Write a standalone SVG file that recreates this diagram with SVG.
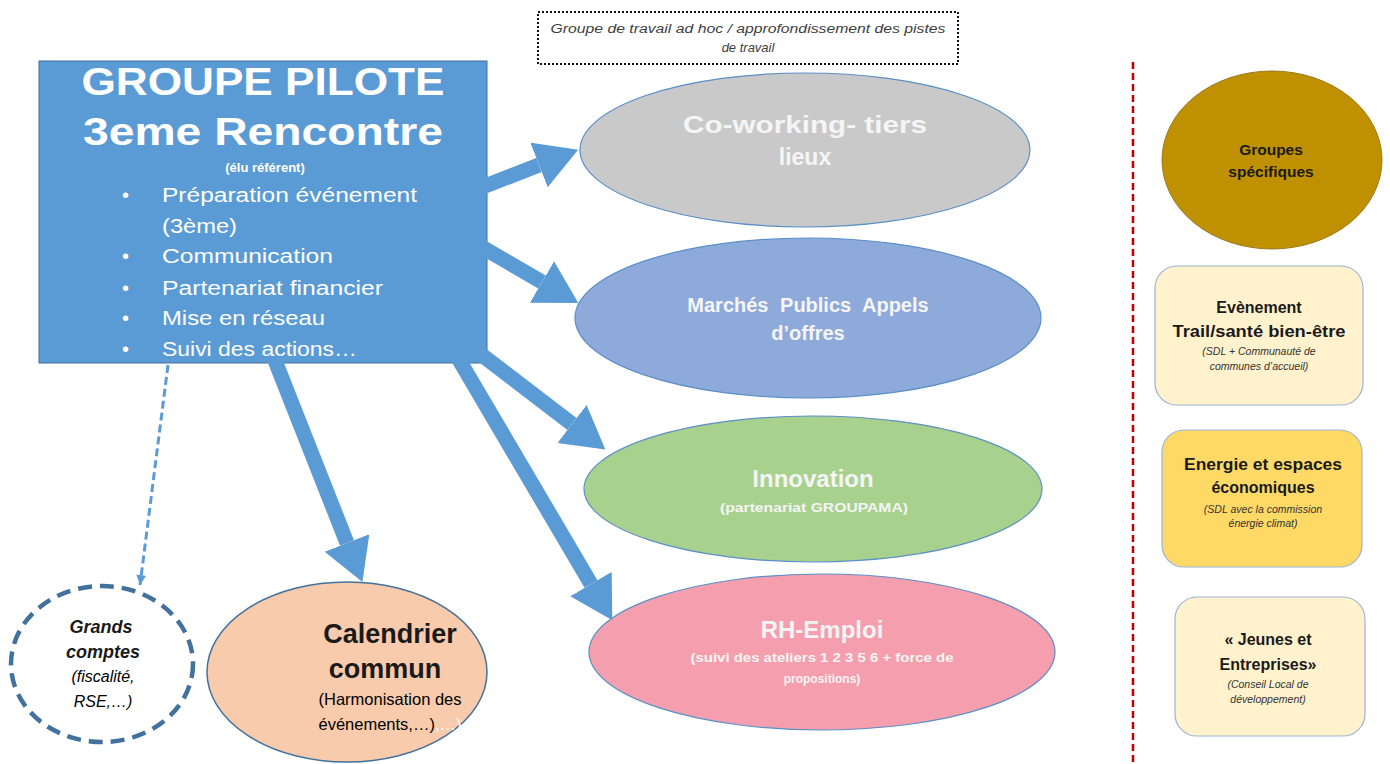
<svg xmlns="http://www.w3.org/2000/svg" width="1390" height="764" viewBox="0 0 1390 764">
<style>
.sans{font-family:"Liberation Sans",Arial,sans-serif}
.hd{font-family:"Liberation Sans",Arial,sans-serif;font-weight:bold;fill:#ffffff;text-anchor:middle}
.bl{font-family:"Liberation Sans",Arial,sans-serif;fill:#ffffff;font-size:20px}
.ell{stroke:#5b8fc7;stroke-width:1.2}
.wt{font-family:"Liberation Sans",Arial,sans-serif;font-weight:bold;fill:#f5f5f5;text-anchor:middle}
.bk{font-family:"Liberation Sans",Arial,sans-serif;font-weight:bold;fill:#1a1a1a;text-anchor:middle}
.sm{font-family:"Liberation Sans",Arial,sans-serif;font-style:italic;fill:#333;text-anchor:middle;font-size:10.5px}
.rbox{stroke:#9db3d6;stroke-width:1.2}
.arr{stroke:#5b9bd5;stroke-width:15;fill:none}
</style>
<defs>
<marker id="head" markerUnits="userSpaceOnUse" markerWidth="44" markerHeight="50" refX="0" refY="24" orient="auto">
<path d="M0,0 L42,24 L0,48 z" fill="#5b9bd5"/>
</marker>
<marker id="small" markerUnits="userSpaceOnUse" markerWidth="12" markerHeight="12" refX="10" refY="5" orient="auto">
<path d="M0,0 L10,5 L0,10 z" fill="#5b9bd5"/>
</marker>
</defs>

<g id="separator">
<line x1="1133" y1="62" x2="1133" y2="762" stroke="#c00000" stroke-width="2.5" stroke-dasharray="7,4"/>
</g>

<g id="groupe-travail">
<rect x="538" y="12" width="420" height="52" fill="#ffffff" stroke="#111" stroke-width="2" stroke-dasharray="2,2"/>
<text class="sans" x="748" y="33" font-size="12.5" font-style="italic" fill="#404040" text-anchor="middle" textLength="395" lengthAdjust="spacingAndGlyphs">Groupe de travail ad hoc / approfondissement des pistes</text>
<text class="sans" x="748" y="52" font-size="13" font-style="italic" fill="#404040" text-anchor="middle">de travail</text>
</g>

<g id="groupe-pilote">
<rect x="39" y="61" width="448" height="302" fill="#5b9bd5" stroke="#41719c" stroke-width="1"/>
<text class="hd" x="263" y="95" font-size="38" textLength="363" lengthAdjust="spacingAndGlyphs">GROUPE PILOTE</text>
<text class="hd" x="263" y="145" font-size="38" textLength="360" lengthAdjust="spacingAndGlyphs">3eme Rencontre</text>
<text class="hd" x="265" y="172" font-size="13">(élu référent)</text>
<g class="bl">
<text x="122" y="202">•</text>
<text x="162" y="202" textLength="255" lengthAdjust="spacingAndGlyphs">Préparation événement</text>
<text x="162" y="233" textLength="75" lengthAdjust="spacingAndGlyphs">(3ème)</text>
<text x="122" y="263">•</text>
<text x="162" y="263" textLength="171" lengthAdjust="spacingAndGlyphs">Communication</text>
<text x="122" y="295">•</text>
<text x="162" y="295" textLength="221" lengthAdjust="spacingAndGlyphs">Partenariat financier</text>
<text x="122" y="325">•</text>
<text x="162" y="325" textLength="163" lengthAdjust="spacingAndGlyphs">Mise en réseau</text>
<text x="122" y="356">•</text>
<text x="162" y="356" textLength="195" lengthAdjust="spacingAndGlyphs">Suivi des actions…</text>
</g>
</g>

<g id="connectors">
<line class="arr" x1="480" y1="188" x2="539" y2="165" marker-end="url(#head)"/>
<line class="arr" x1="480" y1="246" x2="542" y2="282" marker-end="url(#head)"/>
<line class="arr" x1="474" y1="349" x2="572" y2="424" marker-end="url(#head)"/>
<line class="arr" x1="458" y1="358" x2="591" y2="584" marker-end="url(#head)"/>
<line class="arr" x1="274" y1="358" x2="347" y2="543" marker-end="url(#head)"/>
<line x1="168" y1="365" x2="140" y2="585" stroke="#5b9bd5" stroke-width="3" stroke-dasharray="8,4" marker-end="url(#small)"/>
</g>

<g id="coworking">
<ellipse class="ell" cx="805" cy="150" rx="225" ry="77" fill="#c9c9c9"/>
<text class="wt" x="805" y="133" font-size="23" textLength="244" lengthAdjust="spacingAndGlyphs">Co-working- tiers</text>
<text class="wt" x="805" y="165" font-size="23">lieux</text>
</g>

<g id="marches">
<ellipse class="ell" cx="808" cy="318" rx="233" ry="80" fill="#8eaadb"/>
<text class="wt" x="808" y="312" font-size="20" word-spacing="6">Marchés Publics Appels</text>
<text class="wt" x="808" y="340" font-size="20">d’offres</text>
</g>

<g id="innovation">
<ellipse class="ell" cx="813" cy="489" rx="229" ry="73" fill="#a9d18e"/>
<text class="wt" x="813" y="487" font-size="24">Innovation</text>
<text class="wt" x="814" y="512" font-size="12" textLength="188" lengthAdjust="spacingAndGlyphs">(partenariat GROUPAMA)</text>
</g>

<g id="rh-emploi">
<ellipse class="ell" cx="822" cy="652" rx="233" ry="78" fill="#f59fae"/>
<text class="wt" x="822" y="638" font-size="24">RH-Emploi</text>
<text class="wt" x="822" y="662" font-size="12" textLength="263" lengthAdjust="spacingAndGlyphs">(suivi des ateliers 1 2 3 5 6 + force de</text>
<text class="wt" x="822" y="683" font-size="12">propositions)</text>
</g>

<g id="calendrier">
<ellipse cx="347" cy="672" rx="140" ry="90" fill="#f8cbad" stroke="#41719c" stroke-width="1.5"/>
<text class="bk" x="390" y="643" font-size="27" fill="#000">Calendrier</text>
<text class="bk" x="385" y="678" font-size="27" fill="#000">commun</text>
<text class="sans" x="390" y="705" font-size="16.5" fill="#000" text-anchor="middle">(Harmonisation des</text>
<text class="sans" x="390" y="730" font-size="16.5" fill="#000" text-anchor="middle">événements,…)<tspan fill="#ffffff">,…)</tspan></text>
</g>

<g id="grands-comptes">
<ellipse cx="102" cy="664" rx="91" ry="78" fill="#ffffff" stroke="#41719c" stroke-width="4.5" stroke-dasharray="14,8"/>
<text class="bk" x="101" y="633" font-size="18" font-style="italic" fill="#000">Grands</text>
<text class="bk" x="103" y="658" font-size="18" font-style="italic" fill="#000">comptes</text>
<text class="sans" x="103" y="682" font-size="16" font-style="italic" fill="#000" text-anchor="middle">(fiscalité,</text>
<text class="sans" x="103" y="707" font-size="16" font-style="italic" fill="#000" text-anchor="middle">RSE,…)</text>
</g>

<g id="groupes-specifiques">
<ellipse cx="1272" cy="160" rx="110" ry="89" fill="#bf9000" stroke="#9a7a20" stroke-width="1"/>
<text class="bk" x="1271" y="155" font-size="15.5">Groupes</text>
<text class="bk" x="1271" y="177" font-size="15.5">spécifiques</text>
</g>

<g id="evenement">
<rect class="rbox" x="1155" y="266" width="208" height="139" rx="22" fill="#fff2cc"/>
<text class="bk" x="1259" y="313" font-size="16">Evènement</text>
<text class="bk" x="1259" y="337" font-size="16" textLength="173" lengthAdjust="spacingAndGlyphs">Trail/santé bien-être</text>
<text class="sm" x="1259" y="355">(SDL + Communauté de</text>
<text class="sm" x="1259" y="370">communes  d’accueil)</text>
</g>

<g id="energie">
<rect class="rbox" x="1162" y="430" width="200" height="137" rx="22" fill="#ffd966"/>
<text class="bk" x="1263" y="470" font-size="16" textLength="158" lengthAdjust="spacingAndGlyphs">Energie et espaces</text>
<text class="bk" x="1263" y="493" font-size="16">économiques</text>
<text class="sm" x="1263" y="513">(SDL avec la commission</text>
<text class="sm" x="1263" y="527">énergie climat)</text>
</g>

<g id="jeunes">
<rect class="rbox" x="1175" y="597" width="190" height="139" rx="22" fill="#fff2cc"/>
<text class="bk" x="1268" y="645" font-size="16">« Jeunes et</text>
<text class="bk" x="1268" y="670" font-size="16">Entreprises»</text>
<text class="sm" x="1268" y="688">(Conseil Local de</text>
<text class="sm" x="1268" y="703">développement)</text>
</g>
</svg>
